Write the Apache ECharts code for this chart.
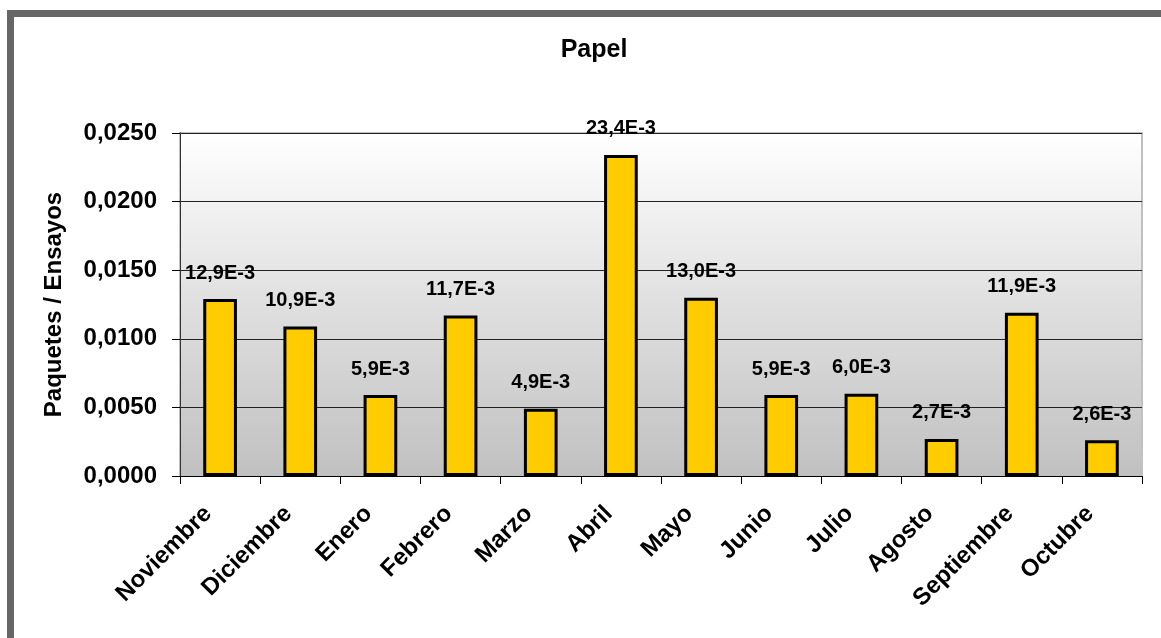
<!DOCTYPE html>
<html>
<head>
<meta charset="utf-8">
<script src="https://cdn.jsdelivr.net/npm/echarts@6/dist/echarts.min.js"></script>
<style>
html,body{margin:0;padding:0;background:#fff;}
#c{width:1161px;height:638px;}
</style>
</head>
<body>
<div id="c"></div>
<script>
const categories = ['Noviembre','Diciembre','Enero','Febrero','Marzo','Abril','Mayo','Junio','Julio','Agosto','Septiembre','Octubre'];
const values = [0.0129, 0.0109, 0.0059, 0.0117, 0.0049, 0.0234, 0.0130, 0.0059, 0.0060, 0.0027, 0.0119, 0.0026];
const titleText = 'Papel';
const yAxisName = 'Paquetes / Ensayos';

const FONT = '"Liberation Sans", Arial, sans-serif';
const chart = echarts.init(document.getElementById('c'), null, {renderer:'canvas'});
chart.setOption({
  animation: false,
  backgroundColor: '#fff',
  title: {
    text: titleText,
    left: 589, top: 33, textAlign: 'center',
    textStyle: {fontFamily: FONT, fontWeight: 'bold', fontSize: 25, color: '#000'}
  },
  graphic: [
    {type:'rect', shape:{x:7, y:10, width:7, height:628}, style:{fill:'#666'}, silent:true},
    {type:'rect', shape:{x:7, y:10, width:1154, height:7}, style:{fill:'#666'}, silent:true}
  ],
  grid: {
    left: 180, right: 19, top: 133, bottom: 162,
    show: true,
    borderColor: '#c0c0c0', borderWidth: 2,
    backgroundColor: {
      type:'linear', x:0, y:0, x2:0, y2:1,
      colorStops:[{offset:0, color:'#ffffff'},{offset:1, color:'#c0c0c0'}]
    }
  },
  xAxis: {
    type: 'category',
    data: categories,
    axisLine: {show:true, lineStyle:{color:'#000', width:1}},
    axisTick: {show:true, alignWithLabel:false, length:8, lineStyle:{color:'#000'}},
    axisLabel: {
      rotate: 45, margin: 22, interval: 0, padding: [0, 17, 0, 0],
      fontFamily: FONT, fontWeight:'bold', fontSize: 24, color:'#000'
    },
    splitLine: {show:false}
  },
  yAxis: {
    type: 'value',
    min: 0, max: 0.025, interval: 0.005,
    name: yAxisName,
    nameLocation: 'middle',
    nameGap: 114,
    nameMoveOverlap: false,
    nameRotate: 90,
    nameTextStyle: {fontFamily: FONT, fontWeight:'bold', fontSize: 24, color:'#000'},
    axisLine: {show:true, lineStyle:{color:'#333', width:1}},
    axisTick: {show:true, length:8, lineStyle:{color:'#000'}},
    axisLabel: {
      margin: 23,
      fontFamily: FONT, fontWeight:'bold', fontSize: 24, color:'#000',
      formatter: v => v.toFixed(4).replace('.', ',')
    },
    splitLine: {show:true, lineStyle:{color:'#222', width:1}}
  },
  series: [{
    type: 'bar',
    data: values,
    barWidth: '42%',
    itemStyle: {color:'#ffcc00', borderColor:'#000', borderWidth:3},
    label: {
      show: true, position: 'top', distance: 16,
      fontFamily: FONT, fontWeight:'bold', fontSize: 20, color:'#000',
      formatter: p => (p.value*1000).toFixed(1).replace('.', ',') + 'E-3'
    }
  }]
});
</script>
</body>
</html>
